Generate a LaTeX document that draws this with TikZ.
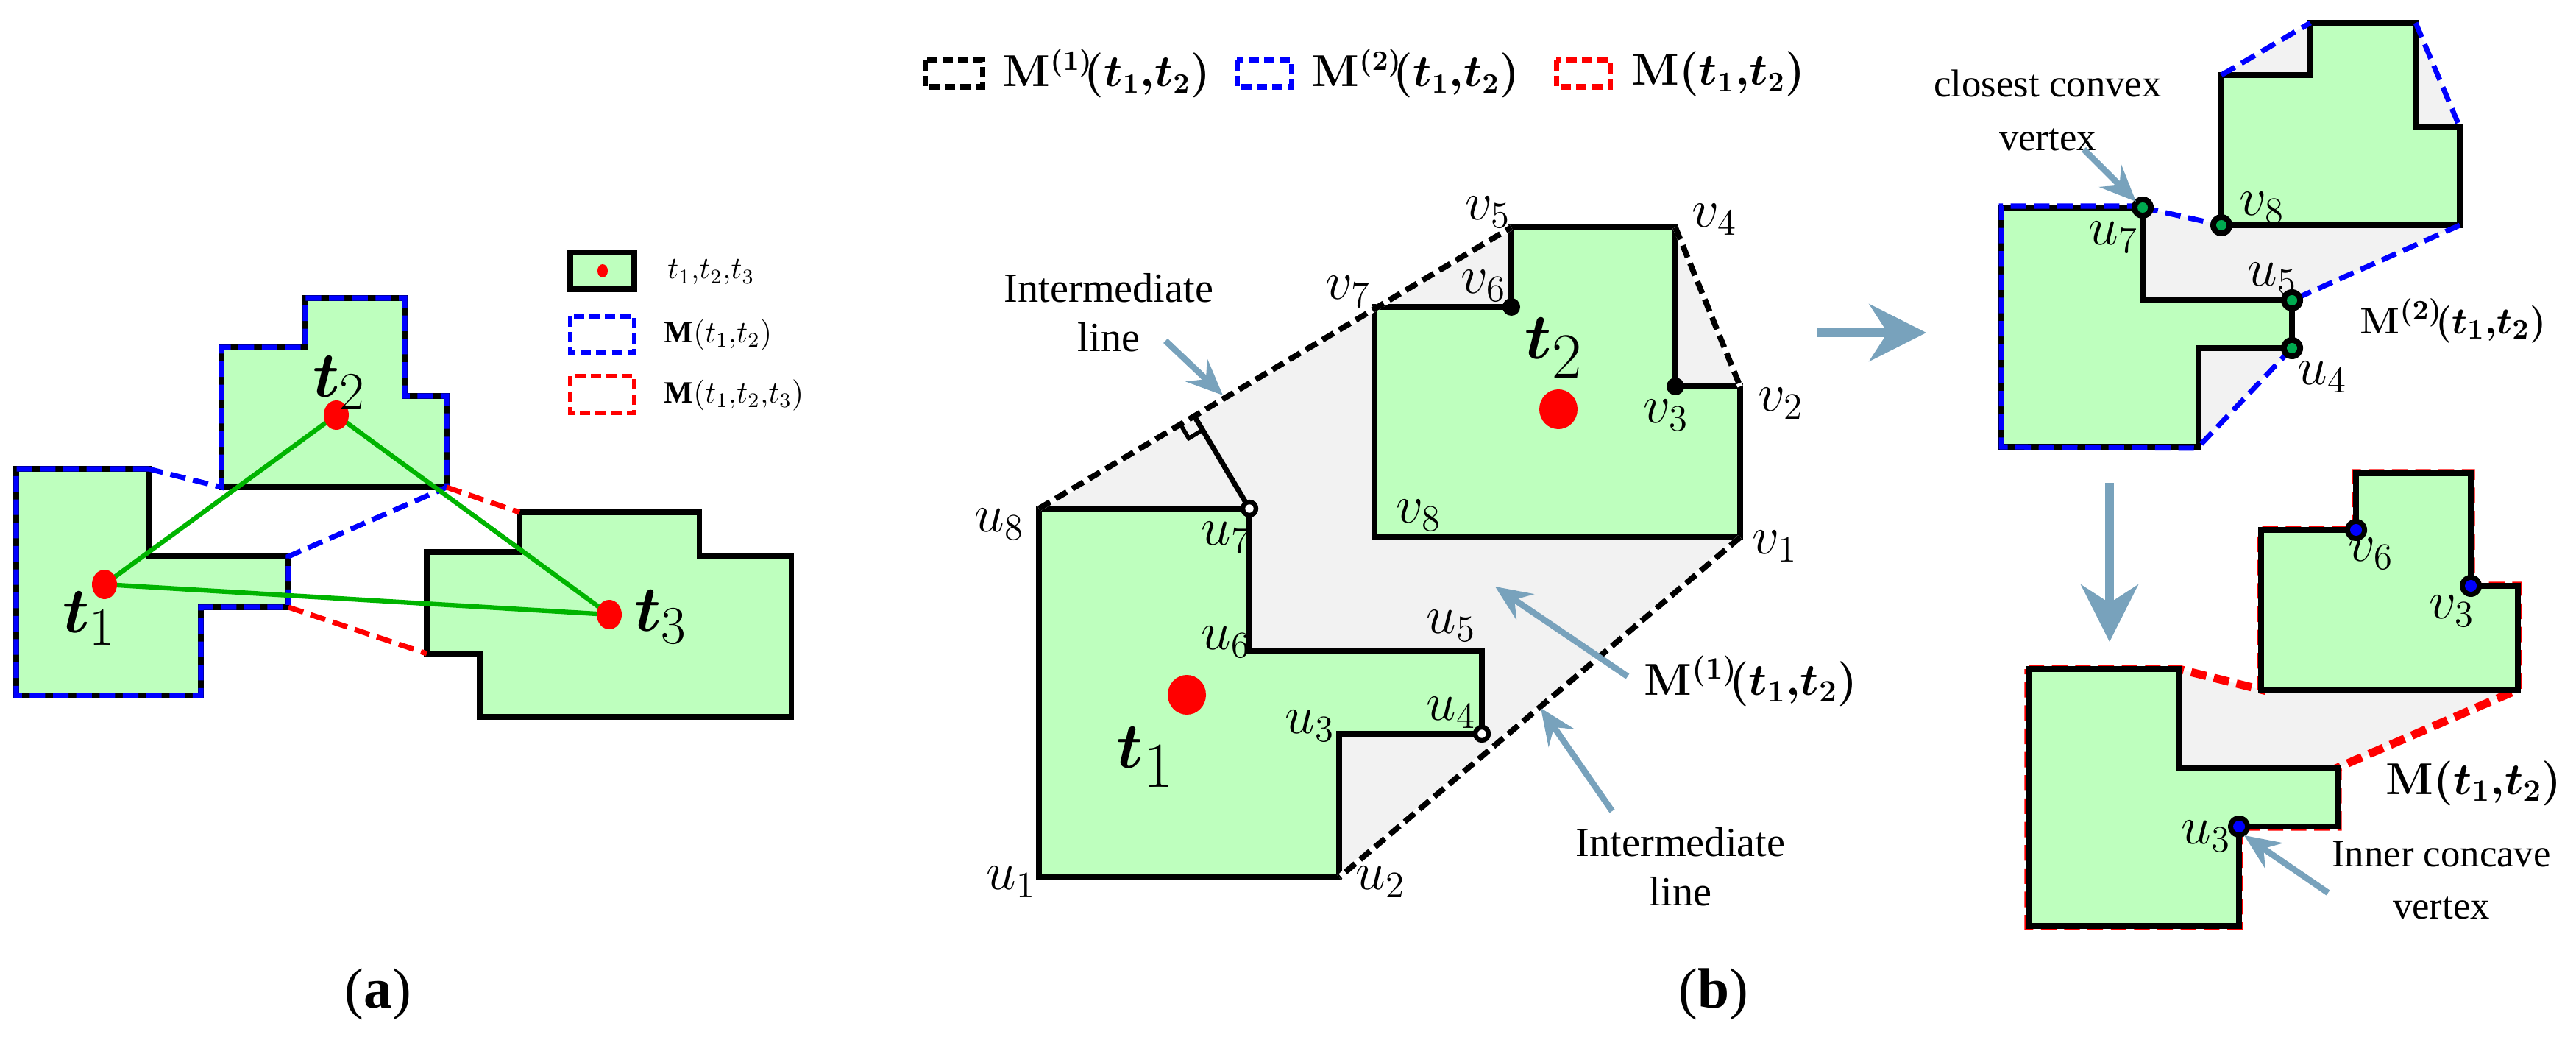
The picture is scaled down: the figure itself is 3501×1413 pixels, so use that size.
\documentclass[tikz,border=0pt]{standalone}
\usepackage{amsmath,amssymb,bm}
\usepackage{fontspec}
\setmainfont{Liberation Serif}
\usetikzlibrary{arrows.meta,calc}
\definecolor{lg}{RGB}{190,255,190}
\definecolor{hull}{RGB}{242,242,242}
\definecolor{arr}{RGB}{120,162,188}
\definecolor{gl}{RGB}{0,180,0}
\definecolor{gd}{RGB}{0,170,80}
\newcommand\MyMone{{\boldmath$\mathbf{M}^{(1)}\!(t_1{,}t_2)$}}
\newcommand\MyMtwo{{\boldmath$\mathbf{M}^{(2)}\!(t_1{,}t_2)$}}
\newcommand\MyM{{\boldmath$\mathbf{M}(t_1{,}t_2)$}}
\begin{document}
\begin{tikzpicture}[x=0.01cm,y=-0.01cm,
  poly/.style={draw=black,line width=2.2pt,fill=lg,line join=miter},
  polya/.style={draw=black,line width=2pt,fill=lg},
  bdash/.style={draw=blue,line width=2pt,dash pattern=on 6pt off 3pt},
  rdash/.style={draw=red,line width=2pt,dash pattern=on 6pt off 3pt},
  kdash/.style={draw=black,line width=2.2pt,dash pattern=on 5pt off 2.5pt},
  callout/.style={draw=arr,line width=2.4pt,-{Stealth[length=14pt,width=12pt,inset=5pt]}},
  big/.style={draw=arr,line width=3.4pt,-{Stealth[length=22pt,width=22pt,inset=7pt]}},
  lab/.style={font=\fontsize{22}{22}\selectfont,inner sep=1pt},
  txt/.style={font=\fontsize{16}{19}\selectfont,align=center,inner sep=1pt},
  reddot/.style={fill=red,draw=none},
  vk/.style={fill=black},
]
\useasboundingbox (0,0) rectangle (3501,1413);

%%%%%%%%%%%%%%%% panel (a)
\draw[polya] (22,637)--(202,637)--(202,756)--(392,756)--(392,825)--(273,825)--(273,945)--(22,945)--cycle;
\draw[polya] (301,472)--(415,472)--(415,405)--(550,405)--(550,538)--(607,538)--(607,662)--(301,662)--cycle;
\draw[polya] (706,696)--(950,696)--(950,756)--(1075,756)--(1075,974)--(652,974)--(652,888)--(580,888)--(580,750)--(706,750)--cycle;
\draw[bdash] (202,637)--(22,637)--(22,945)--(273,945)--(273,825)--(392,825)--(392,756)--(607,662)--(607,538)--(550,538)--(550,405)--(415,405)--(415,472)--(301,472)--(301,662)--cycle;
\draw[rdash] (607,662)--(706,696);
\draw[rdash] (392,825)--(580,888);
\coordinate (A1) at (142,794);
\coordinate (A2) at (457,564);
\coordinate (A3) at (828,835);
\draw[gl,line width=1.8pt] (A1)--(A2)--(A3)--cycle;
\fill[reddot] (A1) ellipse (17 and 20);
\fill[reddot] (A2) ellipse (17 and 20);
\fill[reddot] (A3) ellipse (17 and 20);
\node[lab,font=\fontsize{30}{30}\selectfont] (la1) at (121,840) {$\bm{t}_1$};
\node[lab,font=\fontsize{30}{30}\selectfont] (la2) at (461,520) {$\bm{t}_2$};
\node[lab,font=\fontsize{30}{30}\selectfont,anchor=west] (la3) at (858,838) {$\bm{t}_3$};
% legend (a)
\draw[black,line width=2.2pt,fill=lg] (775,343) rectangle (862,393);
\fill[red] (819,368) ellipse (7 and 9);
\draw[bdash,line width=1.8pt,dash pattern=on 4pt off 2pt] (775,430) rectangle (862,479);
\draw[rdash,line width=1.8pt,dash pattern=on 4pt off 2pt] (775,511) rectangle (862,561);
\node[anchor=west,font=\fontsize{12}{12}\selectfont] (lga1) at (895,370) {$t_1{,}t_2{,}t_3$};
\node[anchor=west,font=\fontsize{12}{12}\selectfont] (lga2) at (890,455) {$\mathbf{M}(t_1{,}t_2)$};
\node[anchor=west,font=\fontsize{12}{12}\selectfont] (lga3) at (890,537) {$\mathbf{M}(t_1{,}t_2{,}t_3)$};
\node[font=\fontsize{22}{22}\selectfont] (capa) at (514,1351) {(\textbf{a})};

%%%%%%%%%%%%%%%% panel (b) legend
\draw[kdash,line width=2pt,dash pattern=on 4pt off 2pt] (1257,82) rectangle (1335,118);
\draw[bdash,line width=2pt,dash pattern=on 4pt off 2pt] (1681,82) rectangle (1755,118);
\draw[rdash,line width=2pt,dash pattern=on 4pt off 2pt] (2115,82) rectangle (2188,118);
\node[anchor=west,font=\fontsize{16}{16}\selectfont] (lgb1) at (1350,100) {\MyMone};
\node[anchor=west,font=\fontsize{16}{16}\selectfont] (lgb2) at (1770,100) {\MyMtwo};
\node[anchor=west,font=\fontsize{16}{16}\selectfont] (lgb3) at (2205,100) {\MyM};

%%%%%%%%%%%%%%%% panel (b) middle
\coordinate (u1) at (1412,1192); \coordinate (u2) at (1820,1192);
\coordinate (u3) at (1820,997);  \coordinate (u4) at (2014,997);
\coordinate (u5) at (2014,884);  \coordinate (u6) at (1698,884);
\coordinate (u7) at (1698,691);  \coordinate (u8) at (1412,691);
\coordinate (v1) at (2365,730);  \coordinate (v2) at (2365,525);
\coordinate (v3) at (2277,525);  \coordinate (v4) at (2277,309);
\coordinate (v5) at (2054,309);  \coordinate (v6) at (2054,417);
\coordinate (v7) at (1868,417);  \coordinate (v8) at (1868,730);
\coordinate (F) at ($(u8)!(u7)!(v5)$);
\fill[hull] (u1)--(u2)--(v1)--(v2)--(v4)--(v5)--(u8)--cycle;
\draw[poly] (u1)--(u2)--(u3)--(u4)--(u5)--(u6)--(u7)--(u8)--cycle;
\draw[poly] (v1)--(v2)--(v3)--(v4)--(v5)--(v6)--(v7)--(v8)--cycle;
\draw[white,line width=2.2pt] (u8)--(v5) (v4)--(v2) (v1)--(u2);
\draw[kdash] (u8)--(v5) (v4)--(v2) (v1)--(u2);
\draw[black,line width=2pt] (u7)--(F);
\coordinate (RA) at ($(F)!0.22cm!(u8)$);
\coordinate (RB) at ($(F)!0.22cm!(u7)$);
\draw[black,line width=1.6pt] (RA) -- ($(RA)+(RB)-(F)$) -- (RB);
\fill[vk] (v6) circle (12); \fill[vk] (v3) circle (12);
\draw[black,fill=white,line width=1.8pt] (u7) circle (9);
\draw[black,fill=white,line width=1.8pt] (u4) circle (9);
\fill[reddot] (1613,944) ellipse (26 and 27);
\fill[reddot] (2118,556) ellipse (26 and 27);
\node[lab,font=\fontsize{34}{34}\selectfont] (lt1) at (1557,1029) {$\bm{t}_1$};
\node[lab,font=\fontsize{34}{34}\selectfont] (lt2) at (2112,473) {$\bm{t}_2$};
\node[lab] at (1358,712) {$u_8$};
\node[lab] at (1666,730) {$u_7$};
\node[lab] at (1666,872) {$u_6$};
\node[lab] at (1972,850) {$u_5$};
\node[lab] at (1972,968) {$u_4$};
\node[lab] at (1780,986) {$u_3$};
\node[lab] at (1876,1198) {$u_2$};
\node[lab] at (1374,1198) {$u_1$};
\node[lab] at (2022,288) {$v_5$};
\node[lab] at (2330,298) {$v_4$};
\node[lab] at (1832,396) {$v_7$};
\node[lab] at (2016,388) {$v_6$};
\node[lab] at (2264,564) {$v_3$};
\node[lab] at (2420,548) {$v_2$};
\node[lab] at (1928,700) {$v_8$};
\node[lab] at (2412,742) {$v_1$};
\node[txt] (il1) at (1507,425) {Intermediate\\line};
\coordinate (il1a) at (1584,463);
\draw[callout] (il1a) -- (1662,537);
\node[txt] (il2) at (2284,1178) {Intermediate\\line};
\coordinate (il2a) at (2191,1102);
\draw[callout] (il2a) -- (2094,962);
\node[anchor=west,font=\fontsize{18}{18}\selectfont] (m1) at (2222,925) {\MyMone};
\coordinate (m1a) at (2212,919);
\draw[callout] (m1a) -- (2032,797);
\node[font=\fontsize{22}{22}\selectfont] (capb) at (2329,1351) {(\textbf{b})};
\coordinate (ba1) at (2469,452); \coordinate (ba2) at (2618,452);
\draw[big] (ba1)--(ba2);

%%%%%%%%%%%%%%%% right top
\fill[hull] (2720,282)--(2912,282)--(3019,306)--(3019,102)--(3140,31)--(3283,31)--(3343,173)--(3343,306)--(3115,408)--(3115,473)--(2988,607)--(2720,607)--cycle;
\draw[poly] (2720,282)--(2912,282)--(2912,408)--(3115,408)--(3115,473)--(2988,473)--(2988,607)--(2720,607)--cycle;
\draw[poly] (3019,102)--(3140,102)--(3140,31)--(3283,31)--(3283,173)--(3343,173)--(3343,306)--(3019,306)--cycle;
\draw[bdash] (2912,280)--(2720,280)--(2720,607)--(2988,609);
\draw[bdash] (2912,282)--(3019,306);
\draw[bdash] (3019,102)--(3140,31);
\draw[bdash] (3283,31)--(3343,173);
\draw[bdash] (3343,306)--(3115,408);
\draw[bdash] (3115,473)--(2988,607);
\foreach \p in {(2912,282),(3019,306),(3115,408),(3115,473)}
  {\fill[black] \p circle (15); \fill[gd] \p circle (7);}
\node[lab] at (2872,322) {$u_7$};
\node[lab] at (3074,282) {$v_8$};
\node[lab] at (3088,378) {$u_5$};
\node[lab] at (3156,512) {$u_4$};
\node[font=\fontsize{15}{15}\selectfont,anchor=west] (m2) at (3195,436) {\MyMtwo};
\node[txt,font=\fontsize{15}{21}\selectfont] (ccv) at (2783,150) {closest convex\\vertex};
\coordinate (ccva) at (2832,203);
\draw[callout] (ccva) -- (2903,274);
\coordinate (da1) at (2867,656); \coordinate (da2) at (2867,872);
\draw[big] (da1)--(da2);

%%%%%%%%%%%%%%%% right bottom
\fill[hull] (2757,909)--(2961,909)--(3073,937)--(3422,937)--(3177,1043)--(2961,1043)--cycle;
\draw[red,line width=3.2pt,dash pattern=on 6pt off 3pt] (2757,909)--(2961,909)--(3073,937)--(3073,720)--(3202,720)--(3202,643)--(3358,643)--(3358,796)--(3422,796)--(3422,937)--(3177,1043)--(3177,1123)--(3043,1123)--(3043,1258)--(2757,1258)--cycle;
\draw[poly] (2757,909)--(2961,909)--(2961,1043)--(3177,1043)--(3177,1123)--(3043,1123)--(3043,1258)--(2757,1258)--cycle;
\draw[poly] (3073,720)--(3202,720)--(3202,643)--(3358,643)--(3358,796)--(3422,796)--(3422,937)--(3073,937)--cycle;
\foreach \p in {(3202,720),(3358,796),(3043,1123)}
  {\fill[black] \p circle (15); \fill[blue] \p circle (8);}
\node[lab] at (3222,752) {$v_6$};
\node[lab] at (3332,830) {$v_3$};
\node[lab] at (2998,1136) {$u_3$};
\node[font=\fontsize{18}{18}\selectfont] (m3) at (3362,1064) {\MyM};
\node[txt,font=\fontsize{15}{20}\selectfont] (icv) at (3318,1196) {Inner concave\\vertex};
\coordinate (icva) at (3164,1213);
\draw[callout] (icva) -- (3050,1135);
\end{tikzpicture}
\end{document}
